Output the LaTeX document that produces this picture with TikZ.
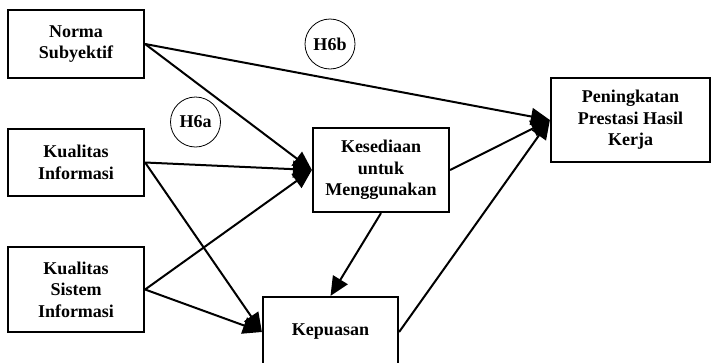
\documentclass[tikz,border=0pt]{standalone}
\usepackage{fontspec}
\setmainfont{Liberation Serif}
\usetikzlibrary{arrows.meta}
\begin{document}
\begin{tikzpicture}[x=1pt,y=-1pt,
  box/.style={draw,line width=2.2pt,align=center,inner sep=0pt,
    font=\bfseries\fontsize{18}{21.5}\selectfont},
  hyp/.style={draw,circle,line width=0.8pt,minimum size=50pt,inner sep=0pt,
    font=\bfseries\fontsize{18}{21.5}\selectfont},
  arr/.style={line width=2pt,-{Triangle[length=19pt,width=17pt]}}]
\useasboundingbox (0,0) rectangle (711,362);
\clip (0,0) rectangle (711,362);
\node[box,minimum width=136pt,minimum height=68pt] (norma) at (76,44) {Norma\\Subyektif};
\node[box,minimum width=136pt,minimum height=67pt] (kinfo) at (76,162.5) {Kualitas\\Informasi};
\node[box,minimum width=136pt,minimum height=85pt] (ksis) at (76,289.5) {Kualitas\\Sistem\\Informasi};
\node[box,minimum width=136pt,minimum height=84pt] (kes) at (381,170) {Kesediaan\\untuk\\Menggunakan};
\node[box,minimum width=159pt,minimum height=84pt] (pen) at (630.5,120) {Peningkatan\\Prestasi Hasil\\Kerja};
\node[box,minimum width=135pt,minimum height=70pt] (kep) at (330.5,332) {Kepuasan};
\node[hyp] (h6b) at (330,44) {H6b};
\node[hyp] (h6a) at (195.5,122) {H6a};
\draw[arr] (norma.east) -- (pen.west);
\draw[arr] (norma.east) -- (kes.west);
\draw[arr] (kinfo.east) -- (kes.west);
\draw[arr] (kinfo.east) -- (kep.west);
\draw[arr] (ksis.east) -- (kes.west);
\draw[arr] (ksis.east) -- (kep.west);
\draw[arr] (kes.south) -- (kep.north);
\draw[arr] (kes.east) -- (pen.west);
\draw[arr] (kep.east) -- (pen.west);
\end{tikzpicture}
\end{document}
